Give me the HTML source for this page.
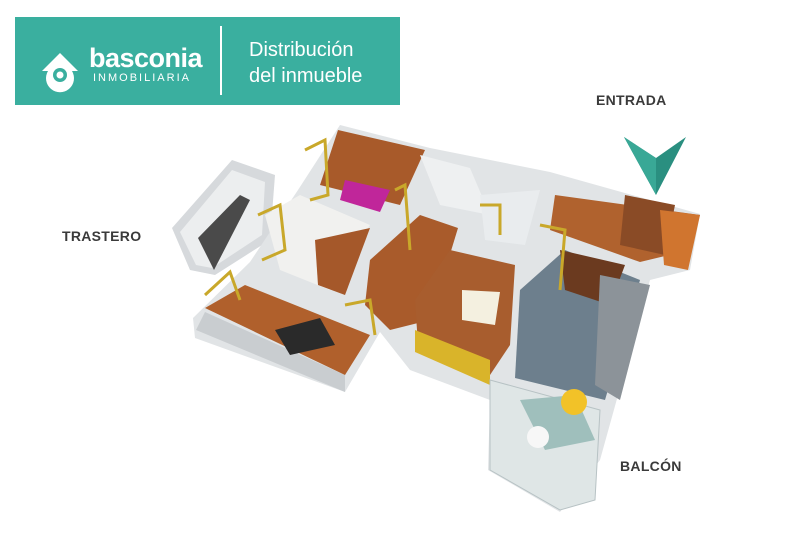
<!DOCTYPE html>
<html><head><style>
body{margin:0;width:800px;height:533px;background:#fff;position:relative;overflow:hidden;font-family:"Liberation Sans",sans-serif}
.ban{position:absolute;left:15px;top:17px;width:385px;height:88px;background:#3aaf9f}
.lbl{position:absolute;font-weight:bold;font-size:14px;color:#3a3a3a;letter-spacing:0.3px}
</style></head><body>
<div class="ban">
 <svg width="385" height="88" style="position:absolute;left:0;top:0">
  <path d="M27 54 L45 36 L63 54 L57 54 A14 14 0 1 1 33 54 Z" fill="#fff"/>
  <circle cx="45" cy="58" r="7" fill="#3aaf9f"/>
  <circle cx="45" cy="58" r="3.5" fill="#fff"/>
  <line x1="206" y1="9" x2="206" y2="78" stroke="#fff" stroke-width="2"/>
 </svg>
 <div style="position:absolute;left:74px;top:26px;color:#fff;font-weight:bold;font-size:27px;letter-spacing:-0.5px">basconia</div>
 <div style="position:absolute;left:78px;top:55px;color:#fff;font-size:11px;letter-spacing:2px">INMOBILIARIA</div>
 <div style="position:absolute;left:234px;top:20px;color:#fff;font-size:20px;line-height:26px">Distribución<br>del inmueble</div>
</div>
<div class="lbl" style="left:62px;top:228px">TRASTERO</div>
<div class="lbl" style="left:596px;top:92px">ENTRADA</div>
<div class="lbl" style="left:620px;top:458px">BALCÓN</div>
<svg width="800" height="533" style="position:absolute;left:0;top:0">
 <!-- trastero -->
 <polygon points="172,228 232,160 275,175 270,240 215,275 190,270" fill="#d6d9dc"/>
 <polygon points="180,232 232,170 265,182 262,235 212,268 196,265" fill="#eceeef"/>
 <polygon points="198,238 240,195 250,200 214,270" fill="#4a4a4a"/>
 <!-- main body -->
 <polygon points="193,318 250,262 298,190 340,125 430,148 550,172 700,214 690,270 650,280 600,460 560,512 488,470 490,400 410,370 380,332 345,392 195,338" fill="#e1e4e6"/>
 <polygon points="196,330 345,392 345,375 205,312" fill="#c9cdd0"/>
 <!-- top living -->
 <polygon points="338,130 425,150 400,205 320,185" fill="#a85a2a"/>
 <polygon points="345,180 390,190 380,212 340,200" fill="#c0269a"/>
 <!-- bedroom left -->
 <polygon points="205,308 245,285 370,335 345,375" fill="#b0602c"/>
 <polygon points="275,330 320,318 335,345 290,355" fill="#2a2a2a"/>
 <!-- bed room middle -->
 <polygon points="265,215 300,195 370,225 330,290 280,270" fill="#f1f1ef"/>
 <polygon points="315,240 370,228 345,295 318,285" fill="#a5582a"/>
 <!-- hallway -->
 <polygon points="370,260 420,215 458,228 430,320 390,330 365,305" fill="#a95b2b"/>
 <!-- living -->
 <polygon points="415,300 450,250 515,265 510,345 490,375 418,345" fill="#a85d2e"/>
 <polygon points="462,290 500,292 495,325 462,320" fill="#f4f0e0"/>
 <polygon points="415,330 490,360 490,385 415,352" fill="#d9b42a"/>
 <!-- bathrooms -->
 <polygon points="420,155 470,168 490,215 440,205" fill="#eef0f1"/>
 <polygon points="480,195 540,190 525,245 485,240" fill="#e9ecee"/>
 <!-- entry corridor -->
 <polygon points="555,195 700,215 690,250 640,262 550,230" fill="#b0622e"/>
 <polygon points="625,195 675,205 665,255 620,245" fill="#8a4b26"/>
 <polygon points="660,210 700,215 688,270 664,265" fill="#d0752f"/>
 <!-- kitchen -->
 <polygon points="520,290 565,250 640,280 605,400 515,378" fill="#6d7f8d"/>
 <polygon points="560,250 625,265 610,305 565,290" fill="#6b3a1f"/>
 <polygon points="600,275 650,285 620,400 595,385" fill="#8c9399"/>
 <!-- balcony -->
 <polygon points="490,380 600,410 595,500 560,510 490,470" fill="#dfe6e6" stroke="#b7c2c4"/>
 <polygon points="520,400 575,395 595,440 545,450" fill="#9fbfbc"/>
 <circle cx="574" cy="402" r="13" fill="#f2c228"/>
 <circle cx="538" cy="437" r="11" fill="#f7f7f7"/>
 <!-- yellow frames -->
 <g stroke="#c9a82a" stroke-width="3" fill="none">
  <polyline points="305,150 325,140 328,195 310,200"/>
  <polyline points="258,215 280,205 285,250 262,260"/>
  <polyline points="205,295 230,272 240,300"/>
  <polyline points="345,305 370,300 375,335"/>
  <polyline points="395,190 405,185 410,250"/>
  <polyline points="540,225 565,230 560,290"/>
  <polyline points="480,205 500,205 500,235"/>
 </g>
 <!-- arrow -->
 <polygon points="624,137 656,158 686,137 656,195" fill="#2a8f80"/>
 <polygon points="624,137 656,158 656,195" fill="#39a896"/>
</svg>
</body></html>
